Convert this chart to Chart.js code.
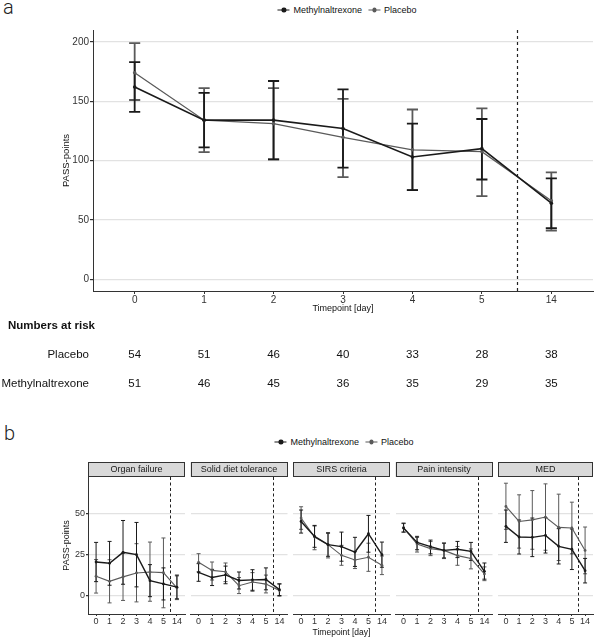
<!DOCTYPE html>
<html><head><meta charset="utf-8">
<script src="https://cdn.jsdelivr.net/npm/chart.js@4.4.0/dist/chart.umd.min.js"></script>
<style>
html,body{margin:0;padding:0;background:#fff;}
body{width:597px;height:639px;position:relative;overflow:hidden;font-family:"Liberation Sans",Arial,sans-serif;}
canvas{position:absolute;left:0;top:0;}
.lbl{position:absolute;font-family:Roboto,"Liberation Sans",sans-serif;font-weight:300;font-size:20px;line-height:1;color:#222;}
.legend{position:absolute;display:flex;align-items:center;font-size:9px;line-height:1;color:#111;white-space:nowrap;transform:translate(-50%,-50%);}
.sym{display:inline-block;width:12px;height:1.5px;position:relative;margin-right:4px;}
.sym::after{content:"";position:absolute;left:4px;top:-1.5px;width:4.5px;height:4.5px;border-radius:50%;background:inherit;}
.gap{display:inline-block;width:6px;}
</style></head>
<body>
<div class="lbl" style="left:3px;top:-3px">a</div>
<div class="lbl" style="left:4px;top:423px">b</div>
<div class="legend" style="left:347px;top:10px"><span class="sym" style="background:#1a1a1a"></span>Methylnaltrexone<span class="gap"></span><span class="sym" style="background:#5a5a5a"></span>Placebo</div>
<div class="legend" style="left:344px;top:442px"><span class="sym" style="background:#1a1a1a"></span>Methylnaltrexone<span class="gap"></span><span class="sym" style="background:#5a5a5a"></span>Placebo</div>
<canvas id="ca" width="597" height="639"></canvas>
<canvas id="f0" width="597" height="639"></canvas>
<canvas id="f1" width="597" height="639"></canvas>
<canvas id="f2" width="597" height="639"></canvas>
<canvas id="f3" width="597" height="639"></canvas>
<canvas id="f4" width="597" height="639"></canvas>
<script>
// ---------- data ----------
const xLabels = ['0', '1', '2', '3', '4', '5', '14'];
const seriesNames = ['Methylnaltrexone', 'Placebo'];

// Panel a: PASS-points
const mntxMean = [162, 134, 134, 127, 103, 110, 64];
const mntxLo   = [141, 111, 101, 94, 75, 84, 43];
const mntxHi   = [183, 157, 167, 160, 131, 135, 85];
const placMean = [174, 134, 131, 119.5, 109, 107.5, 66];
const placLo   = [151, 107, 101, 86, 75, 70, 41];
const placHi   = [199, 161, 161, 152, 143, 144, 90];
const yTicksA  = [0, 50, 100, 150, 200];

// Numbers at risk
const placeboAtRisk = [54, 51, 46, 40, 33, 28, 38];
const mntxAtRisk    = [51, 46, 45, 36, 35, 29, 35];

// Panel b facets
const facetNames = ['Organ failure', 'Solid diet tolerance', 'SIRS criteria', 'Pain intensity', 'MED'];
const yTicksB = [0, 25, 50];

const organMntx   = [20.5, 19.7, 26.4, 25, 9.1, 7.1, 5.1];
const organMntxLo = [8.5, 6.3, 6.9, 5.3, -0.7, -2.7, -2];
const organMntxHi = [32.5, 33.1, 45.9, 44.7, 18.9, 16.9, 12.5];
const organPlac   = [11.8, 8.7, 11.4, 13.8, 14.4, 14, 4.7];
const organPlacLo = [1.5, -4.5, -3, -3.9, -3.5, -7.5, -2.5];
const organPlacHi = [22, 21.9, 25.8, 31.7, 32.7, 35.2, 12];

const dietMntx   = [14.2, 11, 12.6, 9.2, 9.6, 9.8, 3.6];
const dietMntxLo = [8.7, 6.1, 7.2, 4, 3.2, 3.5, 0];
const dietMntxHi = [19.5, 16, 18, 14.4, 15.8, 16.9, 7];
const dietPlac   = [20.3, 15.4, 14.5, 6, 8.3, 7, 3.1];
const dietPlacLo = [14.5, 9.5, 8.5, 1.2, 2.6, 1.6, -0.4];
const dietPlacHi = [25.6, 20.5, 19.9, 11, 14, 12.5, 7.3];

const sirsMntx   = [45.3, 36.2, 31.1, 29.9, 26.6, 37.8, 25];
const sirsMntxLo = [38.2, 29.5, 24, 21, 17.8, 26.5, 17.3];
const sirsMntxHi = [52.3, 42.9, 38.4, 38.8, 35.6, 49, 32.7];
const sirsPlac   = [47.4, 35.8, 31.1, 24.6, 21.7, 23.4, 18.5];
const sirsPlacLo = [40.5, 28, 23, 18.5, 16.5, 14.8, 12.8];
const sirsPlacHi = [54.3, 42.5, 38, 30.7, 27, 32, 24.2];

const painMntx   = [41.3, 32.5, 29.9, 27.6, 28.3, 27, 14.8];
const painMntxLo = [38.8, 28, 25.5, 23, 23.2, 21.5, 10];
const painMntxHi = [44.3, 36.2, 33.9, 32.1, 33.1, 32.5, 19.9];
const painPlac   = [41.3, 31.5, 28.7, 27.6, 24.4, 22.6, 13.2];
const painPlacLo = [38.8, 26.6, 24.4, 22.6, 18.5, 16.3, 9.1];
const painPlacHi = [44, 35.5, 33, 32, 30, 28.5, 17.5];

const medMntx   = [42.3, 35.8, 35.6, 36.8, 30.1, 28.3, 15.2];
const medMntxLo = [32.5, 25.4, 23.8, 26, 19.3, 15.9, 7.7];
const medMntxHi = [52.3, 46.2, 47.4, 47.6, 40.9, 40.7, 22.7];
const medPlac   = [54.5, 45.3, 46.3, 48, 41.7, 41.3, 27.6];
const medPlacLo = [40.5, 29, 28.3, 27.7, 21.4, 25.5, 13.3];
const medPlacHi = [68.7, 61.6, 64.2, 68.3, 62, 57.1, 41.9];

const facetData = [
  [organMntx, organMntxLo, organMntxHi, organPlac, organPlacLo, organPlacHi],
  [dietMntx, dietMntxLo, dietMntxHi, dietPlac, dietPlacLo, dietPlacHi],
  [sirsMntx, sirsMntxLo, sirsMntxHi, sirsPlac, sirsPlacLo, sirsPlacHi],
  [painMntx, painMntxLo, painMntxHi, painPlac, painPlacLo, painPlacHi],
  [medMntx, medMntxLo, medMntxHi, medPlac, medPlacLo, medPlacHi]
];

// ---------- styling ----------
const FONT = '"Liberation Sans", Arial, sans-serif';
Chart.defaults.font.family = FONT;
Chart.defaults.color = '#333';
Chart.defaults.animation = false;
Chart.defaults.plugins.legend.display = false;
Chart.defaults.plugins.tooltip.enabled = false;
const C_MNTX = '#1a1a1a', C_PLAC = '#5a5a5a', AXIS = '#333', GRID = '#e2e2e2';

// ---------- plugins ----------
function errBarsPlugin(cap, width) {
  return {
    id: 'errBars',
    beforeDatasetsDraw(chart) {
      const {ctx, scales: {x, y}} = chart;
      const dss = chart.data.datasets;
      for (let d = dss.length - 1; d >= 0; d--) {
        const ds = dss[d];
        ctx.save();
        ctx.strokeStyle = ds.borderColor;
        ctx.lineWidth = width;
        ds.data.forEach((p, i) => {
          const px = x.getPixelForValue(p.x);
          const hw = Math.abs(x.getPixelForValue(p.x + cap / 2) - px);
          const yl = y.getPixelForValue(ds.errLo[i]);
          const yh = y.getPixelForValue(ds.errHi[i]);
          ctx.beginPath();
          ctx.moveTo(px, yl); ctx.lineTo(px, yh);
          ctx.moveTo(px - hw, yl); ctx.lineTo(px + hw, yl);
          ctx.moveTo(px - hw, yh); ctx.lineTo(px + hw, yh);
          ctx.stroke();
        });
        ctx.restore();
      }
    }
  };
}
function dividerPlugin(at, dash, width) {
  return {
    id: 'divider',
    beforeDatasetsDraw(chart) {
      const {ctx, chartArea: a, scales: {x}} = chart;
      const px = Math.round(x.getPixelForValue(at)) + 0.5;
      ctx.save();
      ctx.setLineDash(dash);
      ctx.strokeStyle = '#222';
      ctx.lineWidth = width;
      ctx.beginPath(); ctx.moveTo(px, a.top); ctx.lineTo(px, a.bottom); ctx.stroke();
      ctx.restore();
    }
  };
}
function stripPlugin(text, h) {
  return {
    id: 'strip',
    afterDraw(chart) {
      const {ctx, chartArea: a} = chart;
      ctx.save();
      ctx.fillStyle = '#d9d9d9';
      ctx.fillRect(a.left, a.top - h, a.right - a.left, h);
      ctx.strokeStyle = '#333'; ctx.lineWidth = 1;
      ctx.strokeRect(Math.round(a.left) + 0.5, Math.round(a.top - h) + 0.5, Math.round(a.right - a.left) - 1, h - 1);
      ctx.fillStyle = '#1a1a1a';
      ctx.font = '9px ' + FONT;
      ctx.textAlign = 'center'; ctx.textBaseline = 'middle';
      ctx.fillText(text, (a.left + a.right) / 2, a.top - h / 2 + 0.5);
      ctx.restore();
    }
  };
}
function riskTablePlugin() {
  const rows = [
    {label: seriesNames[1], values: placeboAtRisk, y: 355},
    {label: seriesNames[0], values: mntxAtRisk, y: 384}
  ];
  return {
    id: 'riskTable',
    afterDraw(chart) {
      const {ctx, scales: {x}} = chart;
      ctx.save();
      ctx.fillStyle = '#111';
      ctx.textBaseline = 'middle';
      ctx.font = 'bold 11.5px ' + FONT;
      ctx.textAlign = 'left';
      ctx.fillText('Numbers at risk', 8, 326);
      ctx.font = '11.5px ' + FONT;
      rows.forEach(r => {
        ctx.textAlign = 'right';
        ctx.fillText(r.label, 89, r.y);
        ctx.textAlign = 'center';
        r.values.forEach((v, i) => ctx.fillText(String(v), x.getPixelForValue(i), r.y));
      });
      ctx.restore();
    }
  };
}

function makeDatasets(mM, mLo, mHi, pM, pLo, pHi, lw, pr) {
  return [
    {label: seriesNames[0], data: mM.map((v, i) => ({x: i, y: v})), errLo: mLo, errHi: mHi,
     borderColor: C_MNTX, backgroundColor: C_MNTX, borderWidth: lw[0], pointRadius: pr,
     pointBorderWidth: 0, pointBackgroundColor: C_MNTX, tension: 0},
    {label: seriesNames[1], data: pM.map((v, i) => ({x: i, y: v})), errLo: pLo, errHi: pHi,
     borderColor: C_PLAC, backgroundColor: C_PLAC, borderWidth: lw[1], pointRadius: pr,
     pointBorderWidth: 0, pointBackgroundColor: C_PLAC, tension: 0}
  ];
}

// ---------- panel a ----------
new Chart(document.getElementById('ca'), {
  type: 'line',
  data: {datasets: makeDatasets(mntxMean, mntxLo, mntxHi, placMean, placLo, placHi, [1.6, 1.3], 1.8)},
  options: {
    responsive: false, devicePixelRatio: 1,
    layout: {padding: {left: 60, right: 2, top: 30, bottom: 324}},
    scales: {
      x: {
        type: 'linear', min: -0.6, max: 6.6,
        afterBuildTicks: s => { s.ticks = xLabels.map((_, i) => ({value: i})); },
        afterFit: s => { s.height = 24; },
        ticks: {callback: v => xLabels[v], font: {size: 10}, color: AXIS, padding: 0, maxRotation: 0, autoSkip: false},
        grid: {drawOnChartArea: false, drawTicks: true, tickLength: 3, tickColor: AXIS},
        border: {display: true, color: AXIS, width: 1},
        title: {display: true, text: 'Timepoint [day]', font: {size: 9}, color: '#111', padding: {top: 0, bottom: 0.6}}
      },
      y: {
        min: -10, max: 210,
        afterBuildTicks: s => { s.ticks = yTicksA.map(v => ({value: v})); },
        afterFit: s => { s.width = 33; },
        ticks: {font: {size: 10}, color: AXIS, padding: 1},
        grid: {color: GRID, lineWidth: 1.2, drawTicks: true, tickLength: 3, tickColor: AXIS},
        border: {display: true, color: AXIS, width: 1},
        title: {display: true, text: 'PASS-points', font: {size: 9.5}, color: '#111', padding: {top: 1, bottom: 0}}
      }
    }
  },
  plugins: [dividerPlugin(5.5, [3, 3], 1.2), errBarsPlugin(0.16, 1.8), riskTablePlugin()]
});

// ---------- panel b ----------
facetNames.forEach((name, f) => {
  const left = 88 + f * 102.5;
  const right = left + 97;
  const first = f === 0;
  const d = facetData[f];
  new Chart(document.getElementById('f' + f), {
    type: 'line',
    data: {datasets: makeDatasets(d[0], d[1], d[2], d[3], d[4], d[5], [1.4, 1.1], 1.4)},
    options: {
      responsive: false, devicePixelRatio: 1,
      layout: {padding: {left: first ? 60 : left, right: 597 - right, top: 477, bottom: 0}},
      scales: {
        x: {
          type: 'linear', min: -0.6, max: 6.6,
          afterBuildTicks: s => { s.ticks = xLabels.map((_, i) => ({value: i})); },
          afterFit: s => { s.height = 25; },
          ticks: {callback: v => xLabels[v], font: {size: 9}, color: AXIS, padding: 0, maxRotation: 0, autoSkip: false},
          grid: {drawOnChartArea: false, drawTicks: true, tickLength: 2, tickColor: AXIS},
          border: {display: true, color: AXIS, width: 1},
          title: {display: f === 2, text: 'Timepoint [day]', font: {size: 8.5}, color: '#111', padding: {top: 0, bottom: 0.9}}
        },
        y: {
          min: -11.3, max: 72.5,
          afterBuildTicks: s => { s.ticks = yTicksB.map(v => ({value: v})); },
          afterFit: s => { s.width = first ? 28 : 0; },
          ticks: {display: first, font: {size: 9}, color: AXIS, padding: 1},
          grid: {color: GRID, lineWidth: 1.2, drawTicks: first, tickLength: 2, tickColor: AXIS},
          border: {display: first, color: AXIS, width: 1},
          title: {display: first, text: 'PASS-points', font: {size: 9}, color: '#111', padding: {top: 1.1, bottom: 0}}
        }
      }
    },
    plugins: [dividerPlugin(5.5, [3, 2.5], 1), errBarsPlugin(0.3, 1), stripPlugin(name, 15)]
  });
});
</script>
</body></html>
